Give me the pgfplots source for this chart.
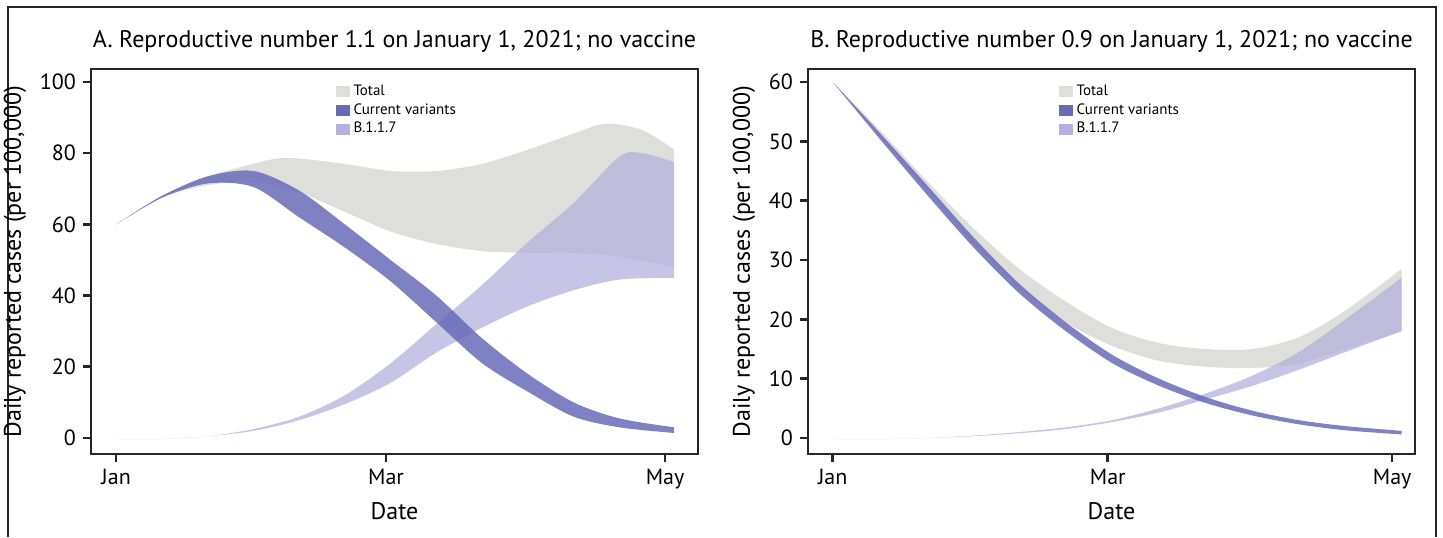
\documentclass[border=0pt]{standalone}
\usepackage{pgfplots}
\pgfplotsset{compat=1.18}
\usepgfplotslibrary{fillbetween}
\usepackage{fontspec}
\setmainfont{PT Sans}
\definecolor{cgray}{RGB}{222,222,219}
\definecolor{cdark}{RGB}{104,107,184}
\definecolor{clight}{RGB}{180,177,220}
\pgfplotsset{
 panel/.style={scale only axis, width=303.5pt, height=192.5pt,
  axis line style={line width=1.3pt,black!85},
  tick style={line width=1.3pt,black!85}, tick align=outside, major tick length=4pt,
  xtick pos=bottom, ytick pos=left,
  xtick={0,59,120}, xticklabels={Jan,Mar,May},
  /pgf/number format/assume math mode=true,
  ticklabel style={font=\fontsize{11}{13}\selectfont},
  label style={font=\fontsize{12}{14}\selectfont},
  title style={font=\fontsize{12}{14}\selectfont, yshift=-1pt},
  xlabel={Date},
  legend style={draw=none, fill=none, font=\fontsize{7.5}{8}\selectfont, anchor=north west, row sep=-1.5pt, inner sep=1pt},
  legend cell align=left,
 },
 bd/.style={draw=none, smooth, forget plot},
 sq/.style={legend image code/.code={\fill[#1] (0.05cm,-0.09cm) rectangle (0.27cm,0.09cm);}},
}
\begin{document}
\begin{tikzpicture}
\draw[line width=1.2pt,black!85] (4pt,0pt) -- (4pt,265pt) -- (718pt,265pt) -- (718pt,0pt);
% Panel A
\begin{axis}[panel, at={(45.5pt,41.5pt)}, anchor=south west,
 xmin=-5.5, xmax=127.2, ymin=-4.5, ymax=103.65, ytick={0,20,40,60,80,100},
 title={A. Reproductive number 1.1 on January 1, 2021; no vaccine},
 ylabel={Daily reported cases (per 100,000)},
 legend style={at={(0.4,0.975)}}]
\addlegendimage{sq=cgray}\addlegendentry{Total}
\addlegendimage{sq=cdark}\addlegendentry{Current variants}
\addlegendimage{sq=clight}\addlegendentry{B.1.1.7}
\addplot[bd, name path=tu] coordinates {(0,60)(10,68)(20,73.5)(30,77)(35,78.5)(40,78.5)(50,77)(60,75)(70,75)(80,77)(90,81)(100,85.5)(107,88.3)(115,86.5)(122,81)};
\addplot[bd, name path=tl] coordinates {(0,60)(10,67.5)(20,71)(30,72)(40,69)(50,63.5)(60,58)(70,54.5)(80,52.5)(90,52)(100,52)(110,51)(122,48)};
\addplot[cgray, forget plot] fill between[of=tu and tl];
\addplot[bd, name path=bu] coordinates {(0,-0.5)(10,-0.3)(20,0.5)(30,2.5)(40,6)(50,12)(60,21)(70,32)(80,43)(90,55)(100,66)(110,79)(115,80)(122,77.5)};
\addplot[bd, name path=bl] coordinates {(0,-0.5)(10,-0.3)(20,0.5)(30,2)(40,5)(50,9.5)(60,15.5)(70,24)(80,31)(90,37)(100,41.5)(110,44.5)(122,45)};
\addplot[clight, fill opacity=0.75, forget plot] fill between[of=bu and bl];
\addplot[bd, name path=cu] coordinates {(0,60)(10,68)(20,73.5)(30,75)(40,69.5)(50,60)(60,50)(70,40)(80,28)(90,18)(100,10)(110,5.5)(122,3)};
\addplot[bd, name path=cl] coordinates {(0,60)(10,67.5)(20,71.5)(30,70.5)(40,62)(50,53.5)(60,44)(70,32.5)(80,21)(90,13)(100,6)(110,3)(122,1.4)};
\addplot[cdark, fill opacity=0.85, forget plot] fill between[of=cu and cl];
\end{axis}
% Panel B
\begin{axis}[panel, at={(404pt,41.5pt)}, anchor=south west,
 xmin=-5.3, xmax=124.9, ymin=-2.7, ymax=62.2, ytick={0,10,20,30,40,50,60},
 title={B. Reproductive number 0.9 on January 1, 2021; no vaccine},
 ylabel={Daily reported cases (per 100,000)},
 legend style={at={(0.41,0.975)}}]
\addlegendimage{sq=cgray}\addlegendentry{Total}
\addlegendimage{sq=cdark}\addlegendentry{Current variants}
\addlegendimage{sq=clight}\addlegendentry{B.1.1.7}
\addplot[bd, name path=tu] coordinates {(0,60)(10,52)(20,43.5)(30,35.5)(40,28.5)(50,23)(60,18.5)(70,16)(80,15)(90,15)(100,17)(110,21.5)(122,28.5)};
\addplot[bd, name path=tl] coordinates {(0,60)(10,51)(20,42)(30,33)(40,25.5)(50,19.5)(60,15.5)(70,13)(80,12)(90,11.8)(100,12.5)(110,15)(122,18)};
\addplot[cgray, forget plot] fill between[of=tu and tl];
\addplot[bd, name path=bu] coordinates {(0,-0.3)(10,-0.2)(20,0)(30,0.4)(40,1)(50,1.8)(60,3)(70,5)(80,7.5)(90,10.5)(100,14.5)(110,20)(122,27)};
\addplot[bd, name path=bl] coordinates {(0,-0.3)(10,-0.2)(20,0)(30,0.3)(40,0.8)(50,1.5)(60,2.7)(70,4.3)(80,6.5)(90,8.8)(100,11.5)(110,14.5)(122,18)};
\addplot[clight, fill opacity=0.75, forget plot] fill between[of=bu and bl];
\addplot[bd, name path=cu] coordinates {(0,60)(10,51.5)(20,42.8)(30,34)(40,26)(50,19.5)(60,14)(70,10)(80,6.9)(90,4.6)(100,3)(110,2)(122,1.2)};
\addplot[bd, name path=cl] coordinates {(0,60)(10,50.5)(20,41.2)(30,32.3)(40,24.4)(50,18)(60,12.6)(70,8.8)(80,5.9)(90,3.8)(100,2.3)(110,1.3)(122,0.6)};
\addplot[cdark, fill opacity=0.85, forget plot] fill between[of=cu and cl];
\end{axis}
\pgfresetboundingbox
\useasboundingbox (0pt,0pt) rectangle (721.5pt,268.5pt);
\end{tikzpicture}
\end{document}
